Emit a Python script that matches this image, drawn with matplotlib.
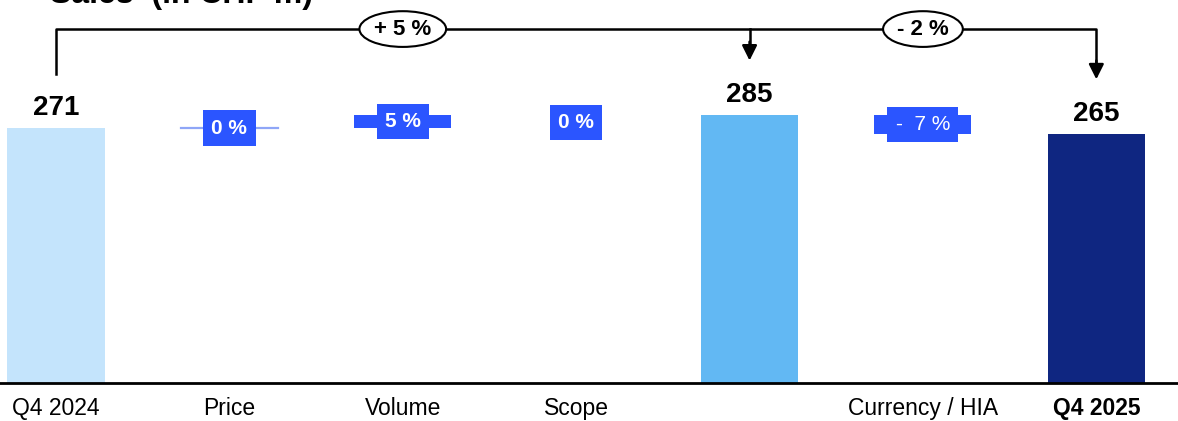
import matplotlib.pyplot as plt
from matplotlib.patches import Ellipse

plt.rcParams['font.family'] = ['Liberation Sans', 'DejaVu Sans']

# sales bridge, CHF m
categories = ['Q4 2024', 'Price', 'Volume', 'Scope', '', 'Currency / HIA', 'Q4 2025']
totals = {0: 271, 4: 285, 6: 265}
steps = {1: 0, 2: 14, 3: 0, 5: -20}
step_labels = {1: '0 %', 2: '5 %', 3: '0 %', 5: '-  7 %'}
bracket_labels = ['+ 5 %', '- 2 %']

total_colors = {0: '#c4e4fc', 4: '#62b8f3', 6: '#0f2681'}
step_color = '#2b55ff'

fig = plt.figure(figsize=(11.78, 4.21), dpi=100)
ax = fig.add_axes([0, 38 / 421, 1, 383 / 421])
ax.set_xlim(-0.323, 6.471)
ax.set_ylim(0, 407.4)
w = 0.56

# total bars with value on top
for i, v in totals.items():
    ax.bar(i, v, width=w, color=total_colors[i], zorder=2)
    ax.annotate(str(v), (i, v), xytext=(0, 9.5), textcoords='offset points',
                ha='center', va='baseline', fontsize=20, fontweight='bold')

# floating step bars
level = totals[0]
for i in sorted(steps):
    d = steps[i]
    if d == 0:
        if i == 1:
            ax.plot([i - w / 2, i + w / 2], [level, level], color='#8fa6f7', lw=1.6, zorder=2)
        mid = level - 8 if i == 3 else level
    else:
        ax.bar(i, d, bottom=level, width=w, color=step_color, zorder=2)
        mid = level + d / 2
    weight = 'normal' if i == 5 else 'bold'
    ax.text(i, mid, step_labels[i], ha='center', va='center', color='white',
            fontsize=15, fontweight=weight, zorder=3,
            bbox=dict(boxstyle='square,pad=0.4', fc=step_color, ec='none'))
    level += d

# growth brackets
top = 376.5
off = 58
ax.plot([0, 0, 6, 6], [totals[0] + off, top, top, totals[6] + off + 18],
        color='black', lw=1.8, zorder=1)
ax.plot([4, 4], [top, totals[4] + off + 18], color='black', lw=1.8, zorder=1)
for i in (4, 6):
    ax.annotate('', xy=(i, totals[i] + off), xytext=(i, totals[i] + off + 20),
                arrowprops=dict(arrowstyle='-|>,head_width=0.45,head_length=0.9',
                                color='black', lw=1.8, shrinkA=0, shrinkB=0))
for x, lab, ew in [(2, bracket_labels[0], 0.50), (5, bracket_labels[1], 0.46)]:
    ax.add_patch(Ellipse((x, top), ew, 38, fc='white', ec='black', lw=1.5, zorder=3))
    ax.text(x, top, lab, ha='center', va='center', fontsize=16, fontweight='bold', zorder=4)

ax.text(50 / 1178, 1 - 3 / 421, 'Sales  (in CHF m)', transform=fig.transFigure,
        ha='left', va='baseline', fontsize=23, fontweight='bold')

ax.set_xticks(range(len(categories)))
ax.set_xticklabels(categories, fontsize=16.5)
ax.get_xticklabels()[6].set_fontweight('bold')
ax.tick_params(axis='x', length=0, pad=10)
ax.set_yticks([])
for s in ['top', 'right', 'left']:
    ax.spines[s].set_visible(False)
ax.spines['bottom'].set_linewidth(2)
ax.spines['bottom'].set_zorder(4)

fig.savefig('out.png', dpi=100)
